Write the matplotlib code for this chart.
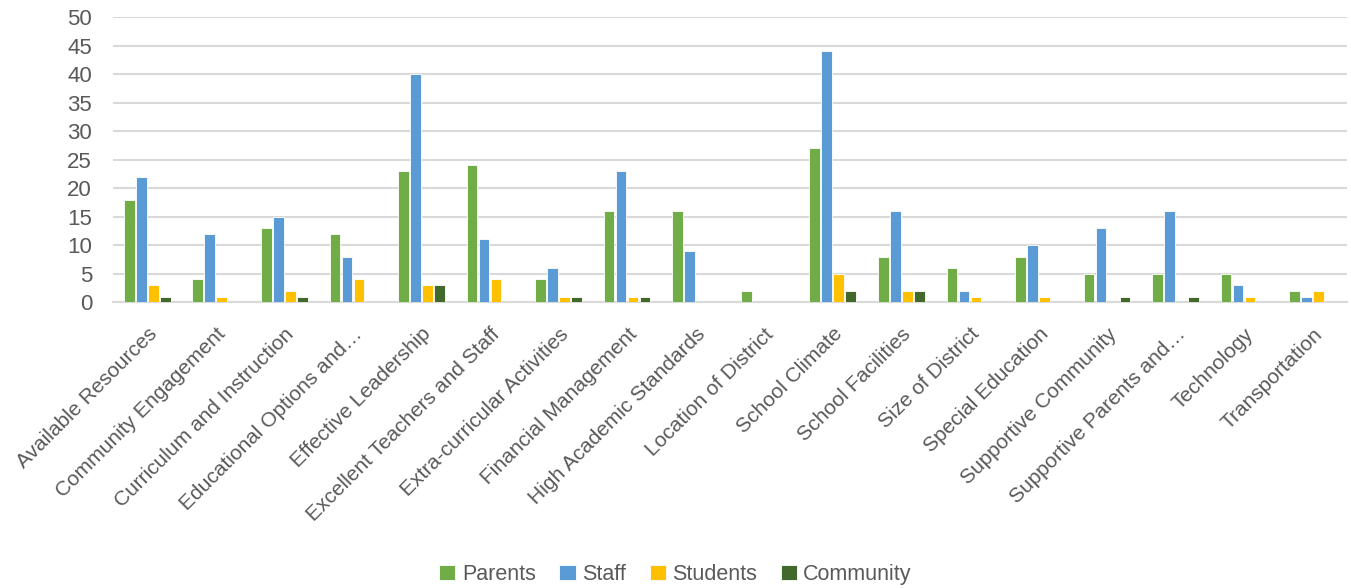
import matplotlib
matplotlib.use("Agg")
from matplotlib import pyplot as plt
import numpy as np

# Survey responses per category
categories = ["Available Resources", "Community Engagement", "Curriculum and Instruction",
              "Educational Options and…", "Effective Leadership", "Excellent Teachers and Staff",
              "Extra-curricular Activities", "Financial Management", "High Academic Standards",
              "Location of District", "School Climate", "School Facilities", "Size of District",
              "Special Education", "Supportive Community", "Supportive Parents and…",
              "Technology", "Transportation"]
parents = [18, 4, 13, 12, 23, 24, 4, 16, 16, 2, 27, 8, 6, 8, 5, 5, 5, 2]
staff = [22, 12, 15, 8, 40, 11, 6, 23, 9, 0, 44, 16, 2, 10, 13, 16, 3, 1]
students = [3, 1, 2, 4, 3, 4, 1, 1, 0, 0, 5, 2, 1, 1, 0, 0, 1, 2]
community = [1, 0, 1, 0, 3, 0, 1, 1, 0, 0, 2, 2, 0, 0, 1, 1, 0, 0]

series = [("Parents", parents, "#70ad47"),
          ("Staff", staff, "#5b9bd5"),
          ("Students", students, "#ffc000"),
          ("Community", community, "#43682b")]

plt.rcParams['font.family'] = ['Liberation Sans', 'DejaVu Sans']
text_color = "#595959"

fig = plt.figure(figsize=(13.51, 5.88), dpi=100)
ax = fig.add_axes([0.0836, 0.486, 0.9134, 0.485])

x = np.arange(len(categories))
slot = 0.175
width = 0.155
for i, (name, vals, color) in enumerate(series):
    ax.bar(x + (i - 1.5) * slot, vals, width, color=color, label=name,
           edgecolor="white", linewidth=0.6, zorder=3)

ax.set_xlim(-0.5, len(categories) - 0.5)
ax.set_ylim(0, 50)
ax.set_yticks(range(0, 51, 5))
ax.yaxis.grid(True, color="#d9d9d9", linewidth=1.5, zorder=0)
ax.set_axisbelow(True)
for s in ["top", "right", "left"]:
    ax.spines[s].set_visible(False)
ax.spines["bottom"].set_color("#d9d9d9")
ax.spines["bottom"].set_linewidth(1.5)
ax.tick_params(axis="both", length=0, colors=text_color)
ax.tick_params(axis="y", pad=15, labelsize=16)

ax.set_xticks(x)
ax.set_xticklabels(categories, rotation=45, ha="right", rotation_mode="anchor",
                   fontsize=15, color=text_color)
ax.tick_params(axis="x", pad=16)

fig.legend(loc="lower center", bbox_to_anchor=(0.5, -0.028), ncol=4, frameon=False,
           fontsize=15.5, labelcolor=text_color, handlelength=0.75, handleheight=0.75,
           handletextpad=0.3, columnspacing=1.1)

fig.savefig("out.png", dpi=100)
